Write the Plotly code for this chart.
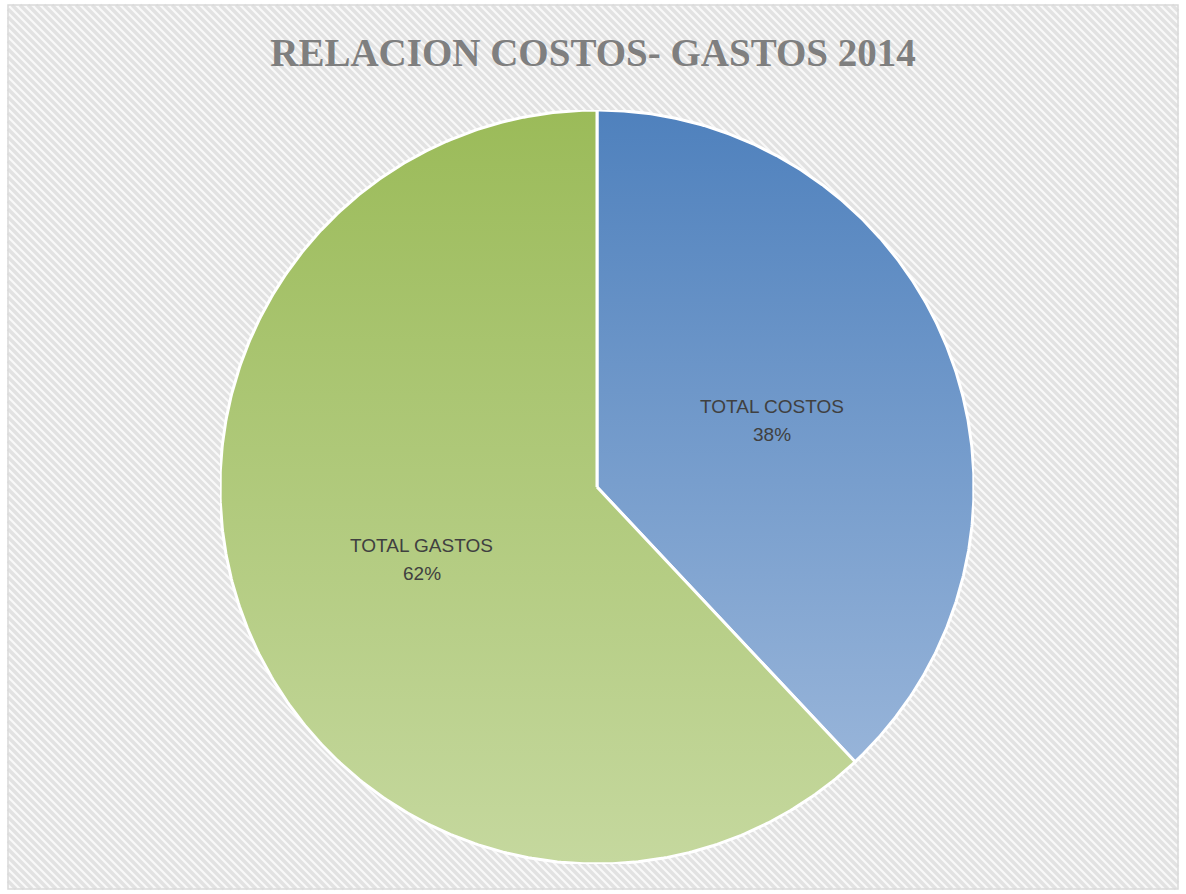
import numpy as np
import plotly.graph_objects as go

# --- data ---
categories = ["TOTAL COSTOS", "TOTAL GASTOS"]
shares = [38, 62]
title_text = "RELACION COSTOS- GASTOS 2014"

# --- style ---
top_colors = ["#4f81bd", "#9bbb59"]
bottom_colors = ["#97b4d9", "#c5d89e"]
label_color = "#404040"
label_font = dict(family="Liberation Sans, Arial, sans-serif", size=19, color=label_color)

W, H = 1186, 894
# plot area holds the unit circle
L, R, T, B = 220, 212, 110, 30
side = W - L - R  # 754 px, square

fig = go.Figure()
annotations = []

total = float(sum(shares))
start = 0.0  # degrees clockwise from 12 o'clock
for name, val, ctop, cbot in zip(categories, shares, top_colors, bottom_colors):
    sweep = 360.0 * val / total
    ang = np.radians(np.linspace(start, start + sweep, 400))
    xs = np.concatenate([[0.0], np.sin(ang), [0.0]])
    ys = np.concatenate([[0.0], np.cos(ang), [0.0]])
    fig.add_trace(go.Scatter(
        x=xs, y=ys, mode="lines", fill="toself",
        line=dict(color="white", width=3),
        fillgradient=dict(type="vertical",
                          colorscale=[[0, cbot], [1, ctop]]),
        hoverinfo="skip", showlegend=False,
    ))
    mid = np.radians(start + sweep / 2)
    rl = 0.5
    lx, ly = rl * np.sin(mid), rl * np.cos(mid)
    for txt, shift in ((name, 11), (f"{val:.0f}%", -17)):
        annotations.append(dict(
            x=lx, y=ly, xref="x", yref="y", text=txt, showarrow=False,
            xanchor="center", yanchor="middle", yshift=shift,
            font=label_font,
        ))
    start += sweep

# --- striped chart-area background, drawn in paper units ---
def to_paper(px, py):
    return (px - L) / side, (H - B - py) / side

bx0, by0, bx1, by1 = 8, 5, 1178, 889
period = 8.0
segs = []
c = bx0 - (by1 - by0)
while c < bx1:
    # down-right diagonal: px - py = c - by0
    px_a, py_a = c, by0
    if px_a < bx0:
        py_a = by0 + (bx0 - px_a)
        px_a = bx0
    px_b, py_b = c + (by1 - by0), by1
    if px_b > bx1:
        py_b = by1 - (px_b - bx1)
        px_b = bx1
    if py_a < py_b and px_a < px_b:
        xa, ya = to_paper(px_a, py_a)
        xb, yb = to_paper(px_b, py_b)
        segs.append(f"M{xa:.5f},{ya:.5f}L{xb:.5f},{yb:.5f}")
    c += period

bxa, bya = to_paper(bx0, by0)
bxb, byb = to_paper(bx1, by1)
shapes = [
    dict(type="rect", xref="paper", yref="paper", layer="below",
         x0=bxa, y0=bya, x1=bxb, y1=byb,
         fillcolor="#f9f9f9", line=dict(width=0)),
    dict(type="path", xref="paper", yref="paper", layer="below",
         path="".join(segs), line=dict(color="#e2e2e2", width=3.5)),
    dict(type="rect", xref="paper", yref="paper", layer="below",
         x0=bxa, y0=bya, x1=bxb, y1=byb,
         fillcolor="rgba(0,0,0,0)", line=dict(color="#d9d9d9", width=1.5)),
]

fig.update_layout(
    width=W, height=H,
    margin=dict(l=L, r=R, t=T, b=B),
    paper_bgcolor="white", plot_bgcolor="rgba(0,0,0,0)",
    xaxis=dict(range=[-1, 1], visible=False, fixedrange=True),
    yaxis=dict(range=[-1, 1], visible=False, fixedrange=True),
    shapes=shapes,
    annotations=annotations,
    title=dict(
        text=f"<b>{title_text}</b>",
        x=0.5, xanchor="center", y=1 - 52 / H, yanchor="middle",
        font=dict(family="Liberation Serif, serif", size=39, color="#7f7f7f"),
    ),
)

fig.write_html("out.html")
